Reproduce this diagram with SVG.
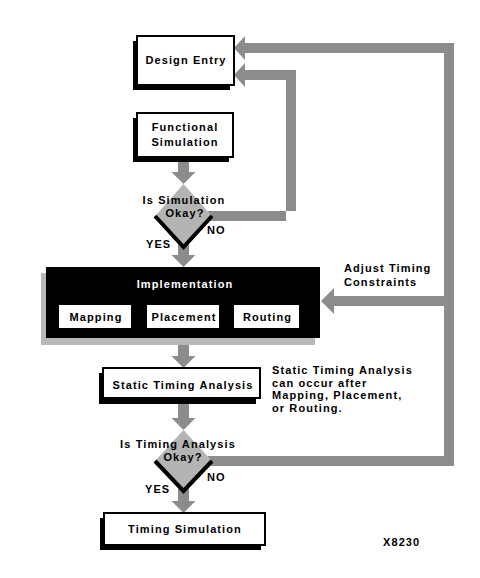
<svg xmlns="http://www.w3.org/2000/svg" width="480" height="578" viewBox="0 0 480 578">
<style>
text{font-family:"Liberation Sans",Arial,Helvetica,sans-serif;font-weight:bold;font-size:11px;letter-spacing:1.1px;fill:#000}
.c{text-anchor:middle}
.box{fill:#fff;stroke:#000;stroke-width:2}
.sh{fill:#000}
.ar{fill:#8c8c8c}
.dia{fill:#b4b4b4}
.v{fill:none;stroke:#000;stroke-width:4;stroke-linejoin:miter}
</style>
<rect width="480" height="578" fill="#fff"/>
<g id="connectors">
<rect class="ar" x="178" y="157" width="11" height="16"/><polygon class="ar" points="171.5,172 195.5,172 183.5,184"/>
<rect class="ar" x="178" y="244" width="11" height="12"/><polygon class="ar" points="171.5,255 195.5,255 183.5,267"/>
<rect class="ar" x="178" y="338" width="11" height="19"/><polygon class="ar" points="171.5,356 195.5,356 183.5,368"/>
<rect class="ar" x="178" y="398" width="11" height="21"/><polygon class="ar" points="171.5,418 195.5,418 183.5,430"/>
<rect class="ar" x="178" y="489" width="11" height="13"/><polygon class="ar" points="171.5,501 195.5,501 183.5,513"/>
<polygon class="ar" points="208,211 296,211 296,70 245,70 245,63 234,75 245,87 245,80 286,80 286,221 208,221"/>
<polygon class="ar" points="208,456 444,456 444,306 334,306 334,314 321,301 334,288 334,296 444,296 444,53 245,53 245,60 234,48 245,36 245,43 454,43 454,466 208,466"/>
</g>
<g id="design-entry">
<rect class="sh" x="133" y="41" width="97" height="49"/>
<rect class="box" x="137" y="36" width="97" height="49"/>
<text class="c" x="186" y="64">Design Entry</text>
</g>
<g id="functional-simulation">
<rect class="sh" x="133" y="118" width="96" height="44"/>
<rect class="box" x="137" y="113" width="96" height="44"/>
<text class="c" x="185" y="131">Functional</text>
<text class="c" x="185" y="146">Simulation</text>
</g>
<g id="sim-okay">
<polygon class="dia" points="183.5,184 211,215 183.5,246 156,215"/>
<polyline class="v" points="155,216 183.5,247 212,216"/>
<text class="c" x="184" y="204">Is Simulation</text>
<text class="c" x="185" y="216.5">Okay?</text>
<text x="207" y="234">NO</text>
<text x="146" y="248">YES</text>
</g>
<g id="implementation">
<rect x="41" y="273" width="274" height="72" fill="#b8b8b8"/>
<rect x="46" y="267" width="274" height="71" fill="#000"/>
<text class="c" x="185" y="288" style="fill:#fff">Implementation</text>
<g id="mapping"><rect x="59" y="305" width="72" height="23" fill="#fff"/><text class="c" x="96" y="321">Mapping</text></g>
<g id="placement"><rect x="147" y="305" width="72" height="23" fill="#fff"/><text class="c" x="184" y="321">Placement</text></g>
<g id="routing"><rect x="234" y="305" width="65" height="23" fill="#fff"/><text class="c" x="267.5" y="321">Routing</text></g>
</g>
<g id="adjust-label">
<text x="344" y="272">Adjust Timing</text>
<text x="344" y="286">Constraints</text>
</g>
<g id="static-timing">
<rect class="sh" x="99" y="373" width="157" height="31"/>
<rect class="box" x="103" y="368" width="157" height="30"/>
<text class="c" x="183" y="389">Static Timing Analysis</text>
</g>
<g id="note">
<text x="272" y="374">Static Timing Analysis</text>
<text x="272" y="386.5">can occur after</text>
<text x="272" y="399">Mapping, Placement,</text>
<text x="272" y="411.5">or Routing.</text>
</g>
<g id="timing-okay">
<polygon class="dia" points="183.5,430 211,460 183.5,490 156,460"/>
<polyline class="v" points="155,461 183.5,491 212,461"/>
<text class="c" x="178" y="448">Is Timing Analysis</text>
<text class="c" x="183" y="460.5">Okay?</text>
<text x="207" y="481">NO</text>
<text x="145" y="493">YES</text>
</g>
<g id="timing-simulation">
<rect class="sh" x="100" y="518" width="161" height="32"/>
<rect class="box" x="104" y="513" width="161" height="32"/>
<text class="c" x="185" y="533">Timing Simulation</text>
</g>
<g id="id-label">
<text x="383" y="546">X8230</text>
</g>
</svg>
